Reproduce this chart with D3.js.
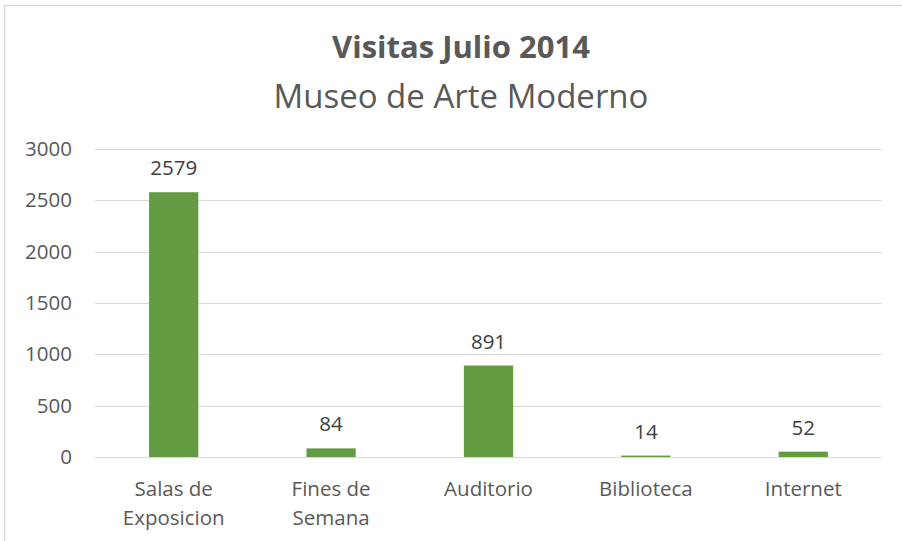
<!DOCTYPE html>
<html>
<head>
<meta charset="utf-8">
<script src="https://cdn.jsdelivr.net/npm/d3@7"></script>
<style>
  html, body { margin: 0; padding: 0; background: #fff; }
  svg { display: block; font-family: "Open Sans", Lato, sans-serif; }
</style>
</head>
<body>
<div id="chart"></div>
<script>
const categories = [["Salas de", "Exposicion"], ["Fines de", "Semana"], ["Auditorio"], ["Biblioteca"], ["Internet"]];
const visits = [2579, 84, 891, 14, 52];
const yTicks = [0, 500, 1000, 1500, 2000, 2500, 3000];

const width = 902;
const height = 541;
const TEXT_COLOR = "#595959";
const BAR_COLOR = "#629b41";
const GRID_COLOR = "#d9d9d9";
const FONT_SIZE = "20.5px";

const margin = { top: 149, right: 20, bottom: 84, left: 95 };

const svg = d3
  .select("#chart")
  .append("svg")
  .attr("width", width)
  .attr("height", height);

// chart area border (cropped at right and bottom)
svg.append("rect")
  .attr("x", 4.5)
  .attr("y", 5.5)
  .attr("width", width + 10)
  .attr("height", height + 10)
  .attr("fill", "#fff")
  .attr("stroke", GRID_COLOR)
  .attr("stroke-width", 1.5);

const x = d3
  .scaleBand()
  .domain(categories.map(function (d) { return d.join(" "); }))
  .range([margin.left, width - margin.right])
  .paddingInner(0.687)
  .paddingOuter(0.3435);

const y = d3
  .scaleLinear()
  .domain([0, 3000])
  .range([height - margin.bottom, margin.top]);

// gridlines
svg.append("g")
  .selectAll("line")
  .data(yTicks)
  .enter()
  .append("line")
  .attr("x1", margin.left)
  .attr("x2", width - margin.right)
  .attr("y1", function (d) { return Math.round(y(d)) + 0.5; })
  .attr("y2", function (d) { return Math.round(y(d)) + 0.5; })
  .attr("stroke", GRID_COLOR)
  .attr("stroke-width", 1.2);

// y axis labels
const yAxis = d3.axisLeft(y)
  .tickValues(yTicks)
  .tickFormat(d3.format("d"))
  .tickSize(0)
  .tickPadding(0);
const yg = svg.append("g")
  .attr("transform", "translate(" + 72 + ",0)")
  .call(yAxis);
yg.select(".domain").remove();
yg.selectAll("text")
  .attr("fill", TEXT_COLOR)
  .attr("font-size", FONT_SIZE)
  .attr("font-family", "\"Open Sans\", Lato, sans-serif");

// bars
svg.append("g")
  .selectAll("rect")
  .data(visits)
  .enter()
  .append("rect")
  .attr("x", function (d, i) { return x(categories[i].join(" ")); })
  .attr("width", x.bandwidth())
  .attr("y", function (d) { return y(d); })
  .attr("height", function (d) { return y(0) - y(d); })
  .attr("fill", BAR_COLOR);

// data labels
svg.append("g")
  .selectAll("text")
  .data(visits)
  .enter()
  .append("text")
  .attr("x", function (d, i) { return x(categories[i].join(" ")) + x.bandwidth() / 2; })
  .attr("y", function (d) { return y(d) - 17; })
  .attr("text-anchor", "middle")
  .attr("font-size", FONT_SIZE)
  .attr("fill", "#404040")
  .text(function (d) { return d; });

// x axis labels
const xl = svg.append("g")
  .selectAll("text")
  .data(categories)
  .enter()
  .append("text")
  .attr("x", function (d) { return x(d.join(" ")) + x.bandwidth() / 2; })
  .attr("y", 496)
  .attr("text-anchor", "middle")
  .attr("font-size", FONT_SIZE)
  .attr("fill", TEXT_COLOR);
xl.selectAll("tspan")
  .data(function (d) { return d; })
  .enter()
  .append("tspan")
  .attr("x", function () { return d3.select(this.parentNode).attr("x"); })
  .attr("dy", function (d, i) { return i === 0 ? 0 : 29; })
  .text(function (d) { return d; });

// titles
svg.append("text")
  .attr("x", 461)
  .attr("y", 58)
  .attr("text-anchor", "middle")
  .attr("font-size", "31px")
  .attr("font-weight", "bold")
  .attr("fill", TEXT_COLOR)
  .text("Visitas Julio 2014");

svg.append("text")
  .attr("x", 461)
  .attr("y", 108)
  .attr("text-anchor", "middle")
  .attr("font-size", "33px")
  .attr("fill", TEXT_COLOR)
  .text("Museo de Arte Moderno");
</script>
</body>
</html>
